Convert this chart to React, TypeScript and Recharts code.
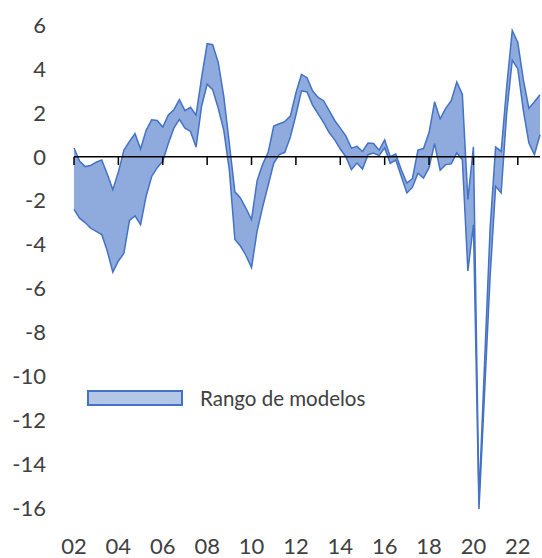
import { Area, ComposedChart, Legend, ReferenceLine, XAxis, YAxis } from "recharts";

// quarterly, 2002Q1 .. 2023Q1
const START_YEAR = 2002;

const upper = [
  0.4, -0.2, -0.45, -0.4, -0.25, -0.15, -0.8, -1.5, -0.7, 0.3,
  0.7, 1.05, 0.35, 1.2, 1.68, 1.65, 1.35, 1.9, 2.14, 2.6,
  2.1, 2.25, 1.9, 3.6, 5.15, 5.1, 4.3, 2.75, 0.6, -1.6,
  -1.88, -2.35, -2.86, -1.1, -0.35, 0.2, 1.4, 1.5, 1.6, 1.85,
  2.9, 3.75, 3.6, 3.0, 2.7, 2.55, 2.1, 1.65, 1.3, 0.95,
  0.39, 0.47, 0.24, 0.62, 0.6, 0.3, 0.77, 0.0, 0.12, -0.6,
  -1.2, -1.0, 0.3, 0.37, 1.1, 2.5, 1.72, 2.2, 2.55, 3.4,
  2.85, -1.95, 0.45, -15.6, -9.45, -3.3, 0.44, 0.24, 3.2, 5.75,
  5.2, 3.5, 2.2, 2.5, 2.82,
];

const lower = [
  -2.4, -2.8, -3.0, -3.25, -3.4, -3.55, -4.3, -5.26, -4.75, -4.4,
  -2.9, -2.7, -3.1, -1.8, -0.9, -0.5, -0.2, 0.6, 1.3, 1.7,
  1.3, 1.15, 0.44, 2.3, 3.3, 3.05, 2.2, 1.2, -0.6, -3.77,
  -4.07, -4.5, -5.05, -3.4, -2.3, -1.3, -0.3, 0.1, 0.2, 0.9,
  1.9, 3.0, 2.95, 2.35, 1.95, 1.55, 1.1, 0.77, 0.35, 0.0,
  -0.59, -0.29, -0.56, 0.09, 0.17, 0.05, 0.4, -0.3, -0.15, -0.9,
  -1.65, -1.4, -0.75, -0.97, -0.5, 0.6, -0.62, -0.36, -0.32, 0.17,
  -0.14, -5.2, -3.1, -16.05, -10.8, -5.5, -1.35, -1.65, 2.0, 4.4,
  4.0, 2.1, 0.62, 0.09, 1.0,
];

const yearTicks = [2002, 2004, 2006, 2008, 2010, 2012, 2014, 2016, 2018, 2020, 2022];
const valueTicks = [-16, -14, -12, -10, -8, -6, -4, -2, 0, 2, 4, 6];

const data = upper.map((hi, i) => ({ t: START_YEAR + i / 4, range: [lower[i], hi] }));

const FONT = "Lato, 'Open Sans', sans-serif";
const TEXT = "#404040";
const BLUE = "#4472C4";

function LegendBox({ payload }: any) {
  const name = payload?.[0]?.value ?? "Rango de modelos";
  return (
    <div style={{ display: "flex", alignItems: "center", fontFamily: FONT, fontSize: 20.5, color: TEXT }}>
      <div style={{ width: 92, height: 12, background: "#B4C7E7", border: `2px solid ${BLUE}` }} />
      <span style={{ marginLeft: 17 }}>{name}</span>
    </div>
  );
}

export default function App() {
  return (
    <div style={{ position: "absolute", left: 0, top: 0, background: "#fff" }}>
      <ComposedChart width={542} height={558} data={data} margin={{ top: 25, right: 2, bottom: 0, left: 0 }}>
        <XAxis
          dataKey="t"
          type="number"
          domain={[2002, 2023]}
          ticks={yearTicks}
          tickFormatter={(v: number) => String(v).slice(2)}
          axisLine={false}
          tickLine={false}
          tickSize={0}
          tickMargin={29}
          height={49}
          interval={0}
          tick={{ fill: TEXT, fontSize: 22, fontFamily: FONT }}
        />
        <YAxis
          type="number"
          domain={[-16, 6]}
          ticks={valueTicks}
          axisLine={false}
          tickLine={false}
          tickSize={0}
          tickMargin={28}
          width={74}
          interval={0}
          tick={{ fill: TEXT, fontSize: 22, fontFamily: FONT }}
        />
        <Area
          type="linear"
          dataKey="range"
          name="Rango de modelos"
          stroke={BLUE}
          strokeWidth={1.5}
          fill="#8FAADC"
          fillOpacity={1}
          isAnimationActive={false}
        />
        <ReferenceLine y={0} stroke="#000" strokeWidth={1.5} />
        {yearTicks.map((yr) => (
          <ReferenceLine
            key={yr}
            segment={[
              { x: yr, y: 0 },
              { x: yr, y: -0.38 },
            ]}
            stroke="#000"
            strokeWidth={1.5}
          />
        ))}
        <Legend
          layout="horizontal"
          verticalAlign="middle"
          align="center"
          content={LegendBox}
          wrapperStyle={{ left: 87, top: 386, width: "auto" }}
        />
      </ComposedChart>
    </div>
  );
}
